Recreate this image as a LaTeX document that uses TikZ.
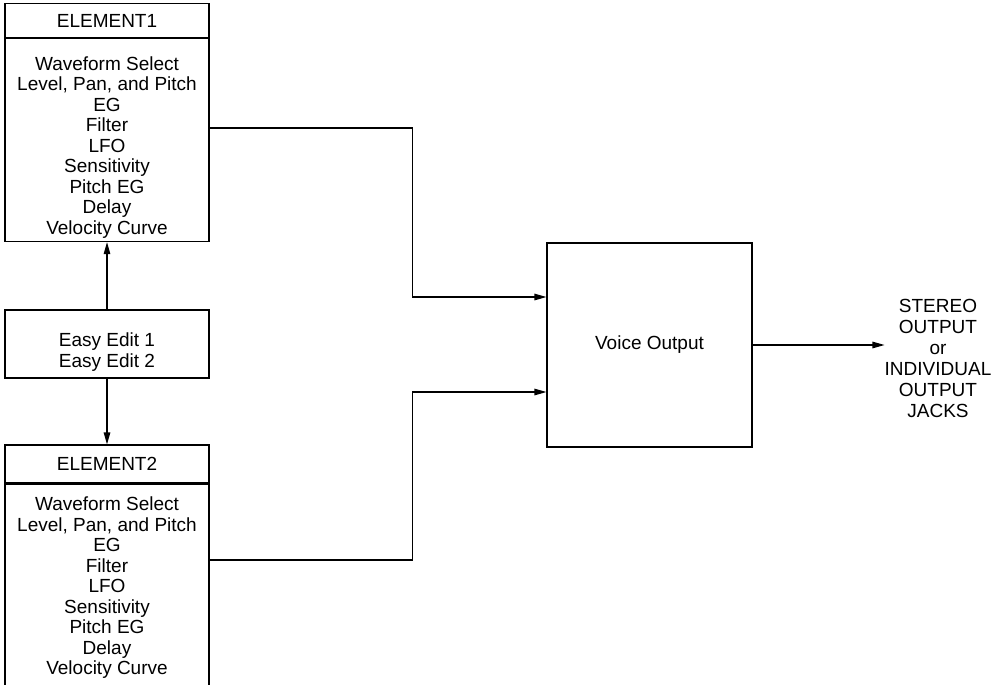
\documentclass[tikz,border=0pt]{standalone}
\usepackage{fontspec}
\setmainfont{Liberation Sans}
\usetikzlibrary{arrows.meta, positioning}

\begin{document}
\begin{tikzpicture}[
    x=1pt, y=-1pt,
    % boxes are 204 wide, all text set at 19pt
    box/.style={
        rectangle, draw=black, line width=1.1pt, fill=white,
        minimum width=204pt, inner sep=0pt,
        font=\fontsize{19}{20.5}\selectfont
    },
    itemlist/.style={
        inner sep=0pt, align=center,
        font=\fontsize{19}{20.5}\selectfont
    },
    arrow/.style={-{Triangle[length=12pt,width=6.5pt]}, line width=1.1pt, draw=black}
]
  \useasboundingbox (0,0) rectangle (993,685);
  \clip (0,0) rectangle (993,685);

  % Left column: elements and easy edit
  \node[box, minimum height=34pt] (el1head) at (107,20.5) {ELEMENT1};
  \node[box, minimum height=203pt, below=0pt of el1head] (el1body) {};
  \node[itemlist, above=4pt of el1body.south] (el1list)
    {Waveform Select\\Level, Pan, and Pitch\\EG\\Filter\\LFO\\Sensitivity\\Pitch EG\\Delay\\Velocity Curve};

  \node[box, minimum height=68pt] (easy) at (107,344) {};
  \node[itemlist, above=7pt of easy.south] (easylist) {Easy Edit 1\\Easy Edit 2};

  \node[box, minimum height=38pt] (el2head) at (107,464) {ELEMENT2};
  \node[box, minimum height=217pt, below=0pt of el2head] (el2body) {};
  \node[itemlist, below=13pt of el2head] (el2list)
    {Waveform Select\\Level, Pan, and Pitch\\EG\\Filter\\LFO\\Sensitivity\\Pitch EG\\Delay\\Velocity Curve};

  % Right side: voice output and jacks
  \node[box, minimum width=205pt, minimum height=204pt] (voice) at (649.5,345) {Voice Output};
  \node[itemlist, font=\fontsize{19}{21}\selectfont] (jacks) at (938,358)
    {STEREO\\OUTPUT\\or\\INDIVIDUAL\\OUTPUT\\JACKS};

  % Connecting arrows
  \draw[arrow] (easy) -- (el1body);
  \draw[arrow] (easy) -- (el2head);

  \coordinate (out1) at (el1body.east |- 0,128);
  \coordinate (in1) at (voice.west |- 0,297);
  \draw[arrow] (out1) -- ++(203,0) |- (in1);

  \coordinate (out2) at (el2body.east |- 0,560);
  \coordinate (in2) at (voice.west |- 0,392);
  \draw[arrow] (out2) -- ++(203,0) |- (in2);

  \draw[arrow] (voice.east) -- (voice.east -| jacks.west);

\end{tikzpicture}
\end{document}
